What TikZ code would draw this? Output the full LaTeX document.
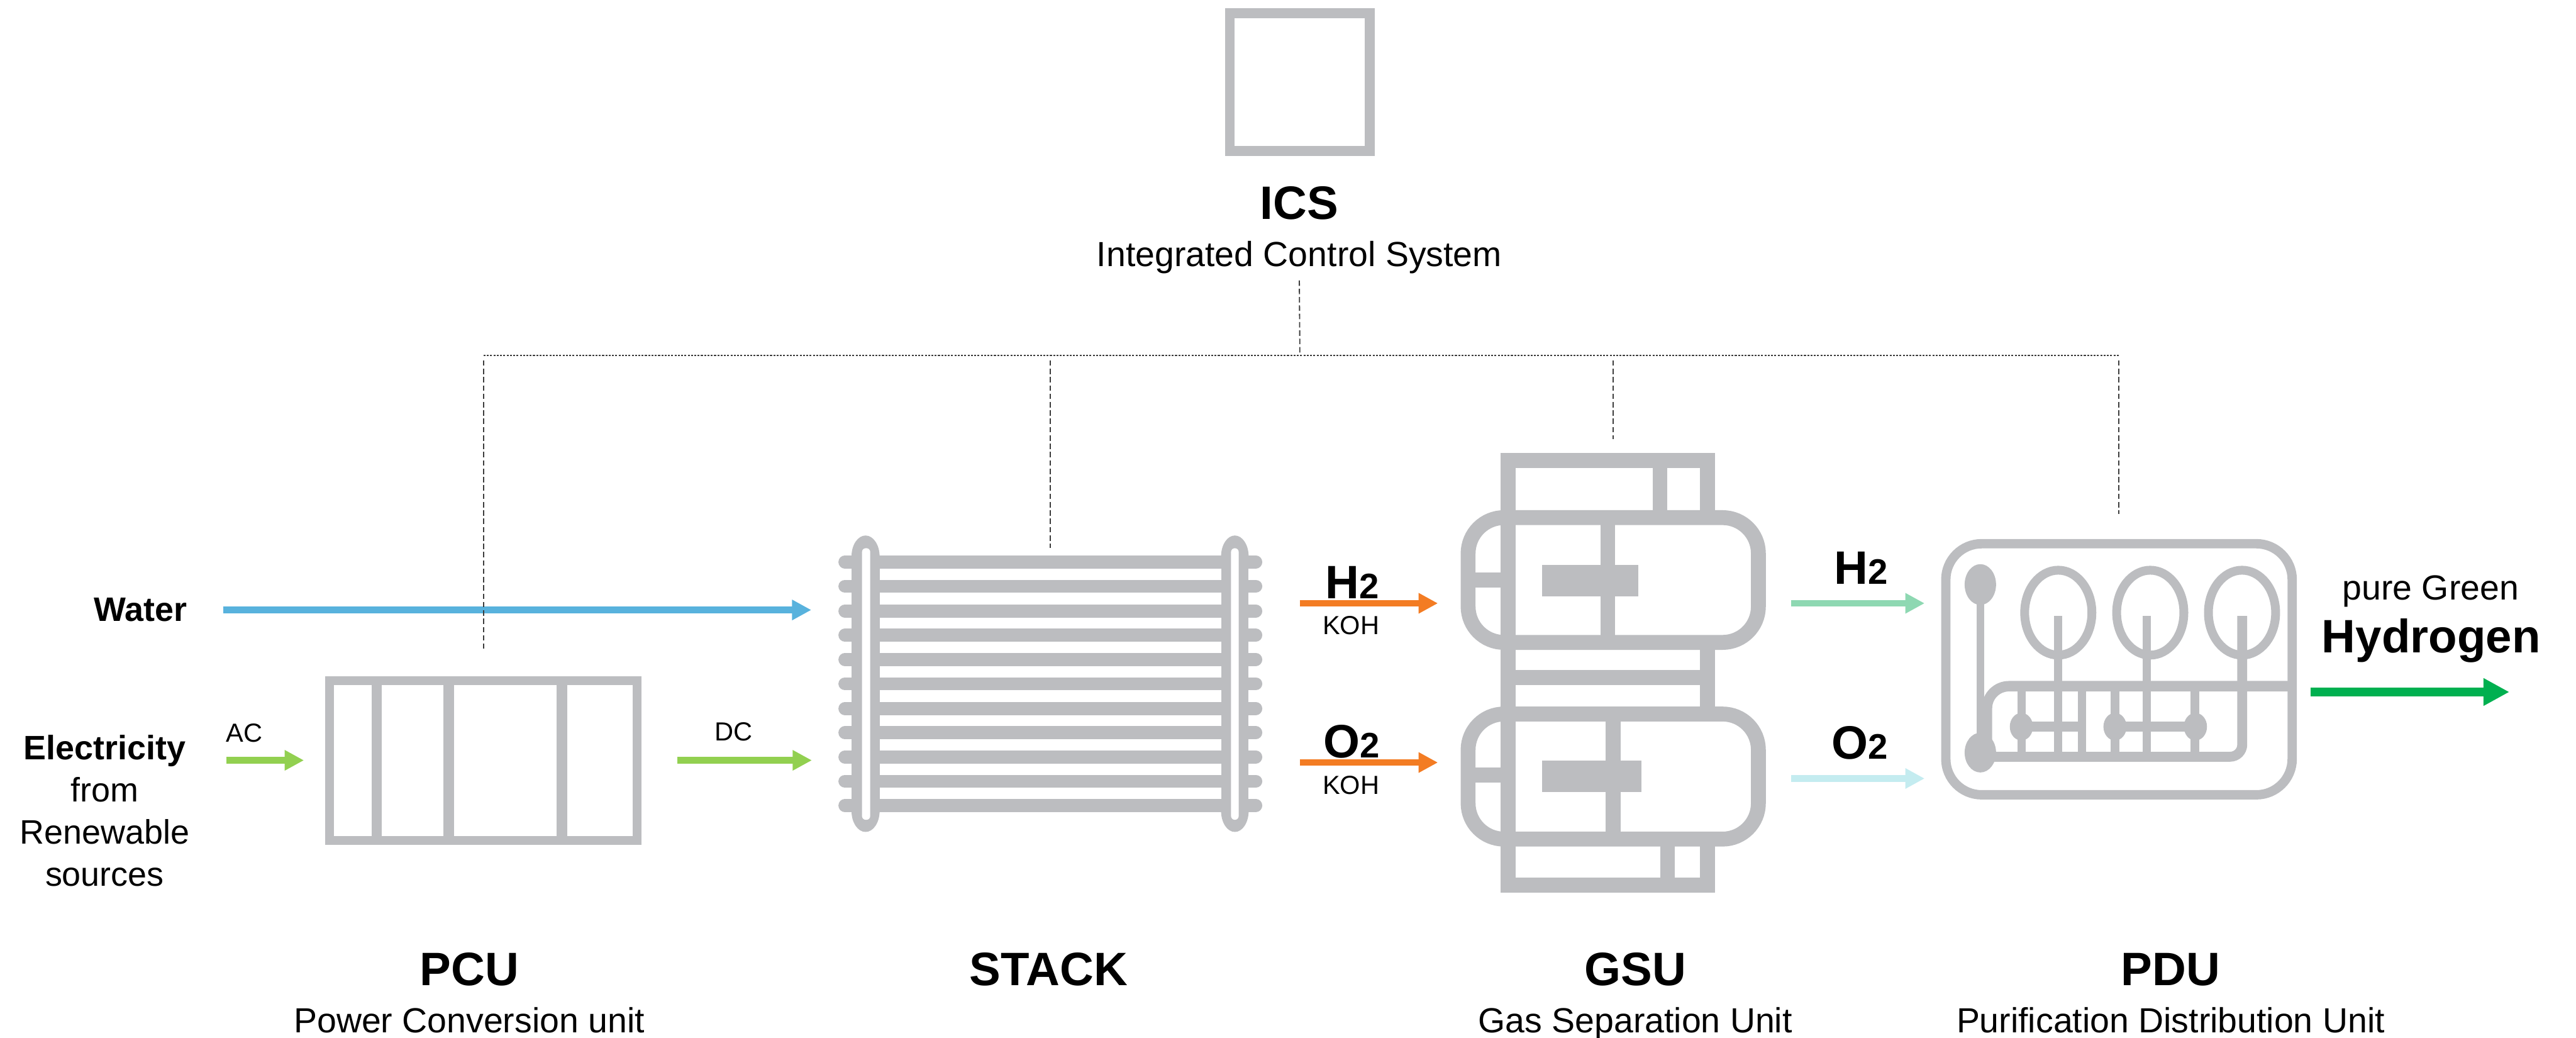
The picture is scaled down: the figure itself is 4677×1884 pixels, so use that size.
\documentclass[tikz,border=0pt]{standalone}
\usepackage{fontspec}
\setmainfont{Liberation Sans}
\usepackage{tikz}
\usetikzlibrary{positioning, arrows.meta}
\usepackage{xcolor}
\definecolor{icongray}{RGB}{188,189,192}
\definecolor{waterblue}{RGB}{88,178,221}
\definecolor{powergreen}{RGB}{146,208,80}
\definecolor{kohorange}{RGB}{243,124,35}
\definecolor{hydromint}{RGB}{142,216,178}
\definecolor{oxycyan}{RGB}{196,236,240}
\definecolor{outgreen}{RGB}{0,176,80}
\definecolor{busgray}{RGB}{60,60,60}

\begin{document}
\begin{tikzpicture}[x=0.01cm, y=-0.01cm]
  \tikzset{
    unitbox/.style={
      draw=icongray,
      line width=0.16cm,
      inner sep=0pt
    },
    unitarea/.style={
      inner sep=0pt
    },
    unitname/.style={
      font=\fontsize{24.2}{29}\selectfont\bfseries,
      inner sep=0pt,
      anchor=base
    },
    unitdesc/.style={
      font=\fontsize{18}{22}\selectfont,
      inner sep=0pt
    },
    feedtext/.style={
      font=\fontsize{17.5}{21.8}\selectfont,
      inner sep=0pt
    },
    flowtag/.style={
      font=\fontsize{13.5}{16}\selectfont,
      inner sep=0pt,
      anchor=base
    },
    flowarrow/.style={
      line width=0.12cm,
      -{Triangle[length=0.35cm, width=0.35cm]}
    },
    ctrl/.style={
      draw=busgray,
      line width=0.6pt,
      dash pattern=on 2.8pt off 1.5pt
    },
    ctrlbus/.style={
      draw=busgray,
      line width=0.6pt,
      dash pattern=on 1pt off 0.7pt
    },
    plate/.style={
      draw=icongray,
      line width=0.236cm,
      line cap=round
    },
    gsuline/.style={
      draw=icongray,
      line width=0.27cm
    },
    pipe/.style={
      draw=icongray,
      line width=0.15cm
    }
  }

  \useasboundingbox (0,0) rectangle (4677,1884);

  % Control system on top
  \node[unitbox, line width=0.18cm, minimum width=2.54cm, minimum height=2.50cm] at (2360,149) (ics) {};
  \node[unitname] at (2359,398) (icsname) {ICS};
  \node[unitdesc, below=0.37cm of icsname] (icsdesc) {Integrated Control System};

  % Power conversion unit
  \node[unitbox, minimum width=5.58cm, minimum height=2.90cm] at (878,1380) (pcu) {};
  \draw[icongray, line width=0.19cm] (684,1235) -- (684,1525);
  \draw[icongray, line width=0.19cm] (815,1235) -- (815,1525);
  \draw[icongray, line width=0.19cm] (1020,1235) -- (1020,1525);

  % Stack: plates between two end loops
  \node[unitarea, minimum width=7.70cm, minimum height=4.66cm] at (1907,1241) (stack) {};
  \draw[plate] (1534,1020) -- (2280,1020);
  \draw[plate] (1534,1064) -- (2280,1064);
  \draw[plate] (1534,1109) -- (2280,1109);
  \draw[plate] (1534,1153) -- (2280,1153);
  \draw[plate] (1534,1197) -- (2280,1197);
  \draw[plate] (1534,1241) -- (2280,1241);
  \draw[plate] (1534,1286) -- (2280,1286);
  \draw[plate] (1534,1330) -- (2280,1330);
  \draw[plate] (1534,1374) -- (2280,1374);
  \draw[plate] (1534,1418) -- (2280,1418);
  \draw[plate] (1534,1462) -- (2280,1462);
  % left loop
  \fill[icongray] (1546,1010) rectangle (1597,1472);
  \fill[icongray] (1571.5,1010) ellipse [x radius=0.255cm, y radius=0.38cm];
  \fill[icongray] (1571.5,1472) ellipse [x radius=0.255cm, y radius=0.38cm];
  \fill[white, rounded corners=0.07cm] (1565,995) rectangle (1580,1488);
  % right loop
  \fill[icongray] (2217,1010) rectangle (2267,1472);
  \fill[icongray] (2242,1010) ellipse [x radius=0.25cm, y radius=0.38cm];
  \fill[icongray] (2242,1472) ellipse [x radius=0.25cm, y radius=0.38cm];
  \fill[white, rounded corners=0.07cm] (2235,995) rectangle (2249,1488);

  % Gas separation unit: two tanks in a frame
  \node[unitarea, minimum width=5.51cm, minimum height=7.98cm] at (2929,1221) (gsu) {};
  \draw[gsuline] (3100,939.5) -- (3100,836) -- (2738,836) -- (2738,1606.5) -- (3100,1606.5) -- (3100,1523);
  \draw[gsuline] (3014,836) -- (3014,939.5);
  \draw[gsuline] (3100,1166) -- (3100,1296);
  \draw[gsuline] (2738,1230) -- (3100,1230);
  \draw[gsuline] (3027.5,1523) -- (3027.5,1606.5);
  % upper tank
  \draw[gsuline, rounded corners=0.65cm] (2665.5,939.5) rectangle (3192.5,1166);
  \draw[gsuline] (2665.5,1053) -- (2738,1053);
  \draw[gsuline] (2919,939.5) -- (2919,1166);
  \fill[icongray] (2799.5,1025) rectangle (2974,1082);
  % lower tank
  \draw[gsuline, rounded corners=0.65cm] (2665.5,1296) rectangle (3192.5,1523);
  \draw[gsuline] (2665.5,1407) -- (2738,1407);
  \draw[gsuline] (2929,1296) -- (2929,1523);
  \fill[icongray] (2799.5,1381) rectangle (2980,1438);

  % Purification distribution unit
  \node[unitbox, line width=0.17cm, rounded corners=0.65cm, minimum width=6.285cm, minimum height=4.555cm] at (3847.25,1214.75) (pdu) {};
  \draw[pipe, line width=0.16cm] (3737,1112) ellipse [x radius=0.61cm, y radius=0.77cm];
  \draw[pipe, line width=0.16cm] (3904,1112) ellipse [x radius=0.61cm, y radius=0.77cm];
  \draw[pipe, line width=0.16cm] (4070.6,1112) ellipse [x radius=0.61cm, y radius=0.77cm];
  \draw[pipe] (3737,1118) -- (3737,1373.5);
  \draw[pipe] (3898,1118) -- (3898,1373.5);
  \draw[pipe, line width=0.18cm, rounded corners=0.22cm] (3595.5,1373.5) -- (4071,1373.5) -- (4071,1118);
  \draw[pipe, line width=0.19cm, rounded corners=0.4cm] (4161,1245.5) -- (3607.5,1245.5) -- (3607.5,1345);
  \draw[pipe, line width=0.14cm] (3595.5,1061) -- (3595.5,1366);
  \draw[pipe] (3670,1245.5) -- (3670,1373.5);
  \draw[pipe] (3780,1245.5) -- (3780,1373.5);
  \draw[pipe] (3840,1245.5) -- (3840,1373.5);
  \draw[pipe] (3985,1245.5) -- (3985,1373.5);
  \draw[pipe, line width=0.19cm] (3670,1319) -- (3780,1319);
  \draw[pipe, line width=0.19cm] (3840,1319) -- (3986,1319);
  \fill[icongray] (3595.5,1061) ellipse [x radius=0.285cm, y radius=0.37cm];
  \fill[icongray] (3595.5,1366) ellipse [x radius=0.285cm, y radius=0.36cm];
  \fill[icongray] (3670,1319) ellipse [x radius=0.21cm, y radius=0.25cm];
  \fill[icongray] (3840,1319) ellipse [x radius=0.21cm, y radius=0.25cm];
  \fill[icongray] (3986,1319) ellipse [x radius=0.21cm, y radius=0.25cm];

  % Feed labels
  \node[feedtext, anchor=base east] at (340,1128) (water) {\bfseries Water};
  \node[feedtext, align=center, anchor=north] at (190,1333) (elec) {\textbf{Electricity}\\from\\Renewable\\sources};
  \node[flowtag, anchor=base west] at (410,1347) (ac) {AC};
  \node[flowtag] at (1332,1344) (dc) {DC};

  % Gas labels
  \node[unitname] at (2455,1087) (h2koh) {H{\fontsize{18.3}{22}\selectfont 2}};
  \node[flowtag] at (2453,1152) (kohtop) {KOH};
  \node[unitname] at (2454,1375) (o2koh) {O{\fontsize{18.3}{22}\selectfont 2}};
  \node[flowtag] at (2453,1442) (kohbottom) {KOH};
  \node[unitname] at (3379,1060) (h2gas) {H{\fontsize{18.3}{22}\selectfont 2}};
  \node[unitname] at (3377,1378) (o2gas) {O{\fontsize{18.3}{22}\selectfont 2}};
  \node[unitdesc, anchor=base] at (4413,1089) (puretext) {pure Green};
  \node[unitname] at (4414,1185) (hydrogen) {Hydrogen};

  % Unit names below
  \node[unitname] at (852,1789) (pcuname) {PCU};
  \node[unitdesc, below=0.37cm of pcuname] (pcudesc) {Power Conversion unit};
  \node[unitname] at (1904,1789) (stackname) {STACK};
  \node[unitname] at (2969,1789) (gsuname) {GSU};
  \node[unitdesc, below=0.37cm of gsuname] (gsudesc) {Gas Separation Unit};
  \node[unitname] at (3941,1789) (pduname) {PDU};
  \node[unitdesc, below=0.37cm of pduname] (pdudesc) {Purification Distribution Unit};

  % Flow rows
  \coordinate (h2row) at (0,1095);
  \coordinate (o2row) at (0,1384);
  \coordinate (o2out) at (0,1413);
  \coordinate (out) at (4556,1256);

  % Flow arrows
  \draw[flowarrow, waterblue, shorten <=0.65cm, shorten >=0.48cm] (water.east) -- (water.east -| stack.west);
  \draw[flowarrow, powergreen, shorten <=0.665cm, shorten >=0.39cm] (elec.east |- pcu.west) -- (pcu.west);
  \draw[flowarrow, powergreen, shorten <=0.65cm, shorten >=0.47cm] (pcu.east) -- (pcu.east -| stack.west);
  \draw[flowarrow, kohorange, shorten <=0.67cm, shorten >=0.42cm] (stack.east |- h2row) -- (gsu.west |- h2row);
  \draw[flowarrow, kohorange, shorten <=0.67cm, shorten >=0.42cm] (stack.east |- o2row) -- (gsu.west |- o2row);
  \draw[flowarrow, hydromint, shorten <=0.47cm, shorten >=0.30cm] (gsu.east |- h2row) -- (pdu.west |- h2row);
  \draw[flowarrow, oxycyan, shorten <=0.47cm, shorten >=0.30cm] (gsu.east |- o2out) -- (pdu.west |- o2out);
  \draw[outgreen, line width=0.16cm, -{Triangle[length=0.47cm, width=0.47cm]}, shorten <=0.245cm] (pdu.east |- out) -- (out);

  % Control lines from ICS
  \coordinate (bus) at (2360,645);
  \draw[ctrl, shorten <=0.12cm] (icsdesc.south) -- (bus);
  \draw[ctrlbus] (pcu.north |- bus) -- (pdu.north |- bus);
  \draw[ctrl, shorten <=0.09cm, shorten >=0.50cm] (pcu.north |- bus) -- (pcu.north);
  \draw[ctrl, shorten <=0.09cm, shorten >=0.13cm] (stack.north |- bus) -- (stack.north);
  \draw[ctrl, shorten <=0.09cm, shorten >=0.24cm] (gsu.north |- bus) -- (gsu.north);
  \draw[ctrl, shorten <=0.09cm, shorten >=0.45cm] (pdu.north |- bus) -- (pdu.north);

\end{tikzpicture}
\end{document}
